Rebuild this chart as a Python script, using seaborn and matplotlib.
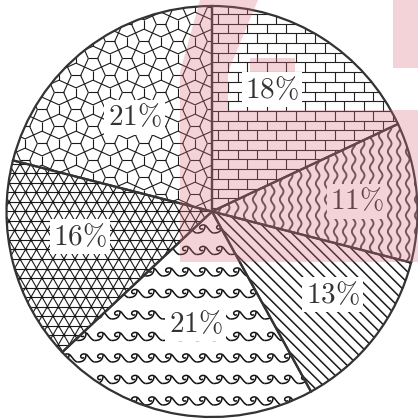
import numpy as np
import matplotlib
matplotlib.use("Agg")
import matplotlib.pyplot as plt
import seaborn as sns
from matplotlib.collections import LineCollection
from matplotlib.patches import Polygon

# ---------------- data ----------------
labels = ["18%", "11%", "13%", "21%", "16%", "21%"]
shares = [18, 11, 13, 21, 16, 21]
patterns = ["brick", "wavy", "diag", "waves", "tri", "cairo"]

# label placement (fraction of radius, angle in degrees)
label_r = [0.66, 0.707, 0.713, 0.553, 0.654, 0.593]
label_ang = [63.7, 4.1, -34.7, -98.3, 190.9, 129.5]

sns.set_theme(style="white")
plt.rcParams["mathtext.fontset"] = "cm"

W, H = 418, 419
CX, CY, R = 212.0, 211.5, 205.5
fig = plt.figure(figsize=(W / 100, H / 100), dpi=100)
fig.patch.set_facecolor("white")
ax = fig.add_axes([(CX - R) / W, (H - CY - R) / H, 2 * R / W, 2 * R / H])
wedges, _ = ax.pie(shares, startangle=90, counterclock=False, radius=1,
                   wedgeprops=dict(facecolor="none", edgecolor="#333333",
                                   linewidth=1.6, zorder=2))
ax.set_xlim(-1, 1)
ax.set_ylim(-1, 1)
ax.set_aspect("auto")
ax.axis("off")
k = 1.0 / R  # px -> data units
E = 1.15


def pat_brick():
    rh, bw = 9.7 * k, 19.4 * k
    segs = []
    y0 = (CY - 111) / R
    for n in range(-25, 26):
        y = y0 + n * rh
        segs.append([(-E, y), (E, y)])
        for x in np.arange(-E + (n % 2) * bw / 2, E, bw):
            segs.append([(x, y), (x, y + rh)])
    return [LineCollection(segs, colors="#222222", linewidths=0.8)]


def pat_wavy():
    sp, amp, lam = 9.0 * k, 1.8 * k, 16.0 * k
    yy = np.linspace(-E, E, 1200)
    segs = []
    for n, x0 in enumerate(np.arange(-E, E, sp)):
        segs.append(np.column_stack([x0 + amp * np.sin(2 * np.pi * yy / lam), yy]))
    return [LineCollection(segs, colors="#4a4a4a", linewidths=1.4)]


def pat_diag():
    sp = 11.0 * k
    segs = []
    for c in np.arange(-2.5, 2.5, sp):
        segs.append([(-E, E + c), (E, -E + c)])
    return [LineCollection(segs, colors="#1a1a1a", linewidths=1.1)]


def bez(p0, p1, p2, p3, n=14):
    t = np.linspace(0, 1, n)[:, None]
    p0, p1, p2, p3 = map(np.array, (p0, p1, p2, p3))
    return (1 - t) ** 3 * p0 + 3 * (1 - t) ** 2 * t * p1 + 3 * (1 - t) * t ** 2 * p2 + t ** 3 * p3


def pat_waves():
    rs, per, hh = 21.5 * k, 17.0 * k, 8.5 * k
    segs = []
    base = [
        bez((0, 0), (0.35, 0), (0.47, 0.3), (0.5, 0.9)),
        bez((0.5, 0.9), (0.6, 0.85), (0.8, 0.0), (1.0, 0.0)),
    ]
    hook = bez((0.5, 0.9), (0.3, 1.08), (0.08, 0.75), (0.22, 0.5))
    hook = np.vstack([hook, bez((0.22, 0.5), (0.27, 0.42), (0.34, 0.45), (0.36, 0.55), 6)])
    for j in range(-12, 13):
        y0 = j * rs
        for x0 in np.arange(-E, E, per):
            for b in base + [hook]:
                segs.append(np.column_stack([x0 + b[:, 0] * per, y0 + b[:, 1] * hh]))
    return [LineCollection(segs, colors="#111111", linewidths=1.1)]


def pat_tri():
    h = 9.5 * k
    a = h / np.sin(np.pi / 3)
    segs = []
    for j in range(-30, 31):
        segs.append([(-E, j * h), (E, j * h)])
    d = np.array([0.5, np.sqrt(3) / 2]) * 3
    for i in range(-60, 61):
        p = np.array([i * a, 0.0])
        segs.append([tuple(p - d), tuple(p + d)])
        d2 = np.array([-d[0], d[1]])
        segs.append([tuple(p - d2), tuple(p + d2)])
    lc = LineCollection(segs, colors="#1a1a1a", linewidths=0.8)
    return [lc]


def pat_tri_dots():
    h = 9.5 * k
    a = h / np.sin(np.pi / 3)
    pts = []
    for j in range(-25, 26):
        for i in range(-30, 31):
            pts.append((i * a + (j % 2) * a / 2, j * h))
    return np.array(pts)


def pat_cairo():
    L = 17.0 * k
    s = 0.548
    segs = []
    for i in range(-15, 16):
        for j in range(-15, 16):
            cx, cy = i, j
            if (i + j) % 2 == 0:
                A = (cx - s / 2, cy)
                B = (cx + s / 2, cy)
                segs.append([A, B])
                segs.append([A, (cx - 0.5, cy + 0.5)])
                segs.append([A, (cx - 0.5, cy - 0.5)])
                segs.append([B, (cx + 0.5, cy + 0.5)])
                segs.append([B, (cx + 0.5, cy - 0.5)])
            else:
                A = (cx, cy - s / 2)
                B = (cx, cy + s / 2)
                segs.append([A, B])
                segs.append([A, (cx - 0.5, cy - 0.5)])
                segs.append([A, (cx + 0.5, cy - 0.5)])
                segs.append([B, (cx - 0.5, cy + 0.5)])
                segs.append([B, (cx + 0.5, cy + 0.5)])
    segs = [[(p[0] * L, p[1] * L) for p in sg] for sg in segs]
    return [LineCollection(segs, colors="#1a1a1a", linewidths=0.8)]


makers = {"brick": pat_brick, "wavy": pat_wavy, "diag": pat_diag,
          "waves": pat_waves, "tri": pat_tri, "cairo": pat_cairo}

for w, p in zip(wedges, patterns):
    for coll in makers[p]():
        coll.set_zorder(1)
        ax.add_collection(coll)
        coll.set_clip_path(w)
    if p == "tri":
        pts = pat_tri_dots()
        sc = ax.scatter(pts[:, 0], pts[:, 1], s=2.5, color="#111111", zorder=1, linewidths=0)
        sc.set_clip_path(w)

for lab, r, ang in zip(labels, label_r, label_ang):
    t = np.deg2rad(ang)
    ax.text(r * np.cos(t), r * np.sin(t), "$" + lab.replace("%", r"\%") + "$",
            fontsize=21, ha="center", va="center", color="#333333", zorder=5,
            bbox=dict(boxstyle="square,pad=0.12", fc="white", ec="none"))

# faint watermark overlay
ov = fig.add_axes([0, 0, 1, 1], zorder=10)
ov.set_xlim(0, W)
ov.set_ylim(H, 0)
ov.axis("off")
pink = (218 / 255, 112 / 255, 125 / 255)
shapes = [
    [(200, 0), (258, 0), (228, 72), (180, 72)],
    [(180, 72), (228, 72), (228, 110), (180, 110)],
    [(180, 110), (418, 110), (418, 262), (180, 262)],
    [(393, 0), (418, 0), (418, 68), (393, 68)],
    [(250, 58), (295, 58), (295, 72), (250, 72)],
]
for sh in shapes:
    ov.add_patch(Polygon(sh, closed=True, fc=pink, ec="none", alpha=0.3))

fig.savefig("out.png", dpi=100, facecolor="white")
